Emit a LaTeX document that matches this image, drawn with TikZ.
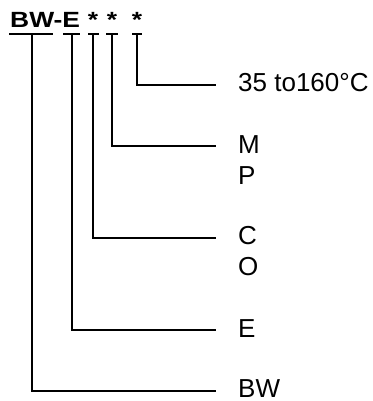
\documentclass[tikz,border=0pt]{standalone}
\usepackage{fontspec}
\setmainfont{Liberation Sans}
\usepackage{graphicx}
\usetikzlibrary{positioning}
\usetikzlibrary{calc}

\begin{document}
\begin{tikzpicture}[x=1pt,y=-1pt]
          \useasboundingbox (0,0) rectangle (372,401);
          \begin{scope}[every node/.style={inner sep=0pt,font=\bfseries\fontsize{22}{26}\selectfont}]
            \node[anchor=base west] (code) at (10,28) {\scalebox{1.2}[1]{BW-E}};
            \node[anchor=base] (st1) at (93,28) {\scalebox{1.2}[1]{*}};
            \node[anchor=base] (st2) at (112,28) {\scalebox{1.2}[1]{*}};
            \node[anchor=base] (st3) at (137,28) {\scalebox{1.2}[1]{*}};
          \end{scope}
          % underlines below the code
          \begin{scope}[line width=2pt]
            \draw (9,34) -- (53,34);
            \draw (63,34) -- (80,34);
            \draw (88,34) -- (99,34);
            \draw (106,34) -- (118,34);
            \draw (132,34) -- (142,34);
          \end{scope}
          \coordinate (tbw) at (32,34);
          \coordinate (te) at (72,34);
          \coordinate (ts1) at (93,34);
          \coordinate (ts2) at (112,34);
          \coordinate (ts3) at (137,34);
          \coordinate (ebw) at (216,391);
          \coordinate (ee) at (216,330);
          \coordinate (ec) at (216,238);
          \coordinate (em) at (216,146);
          \coordinate (et) at (216,85);
          \begin{scope}[every node/.style={anchor=base west,inner sep=0pt,align=left,font=\fontsize{26}{31}\selectfont}]
            \node (temp) at (238,92) {35 to160°C};
            \node (mp) at (238,184) {M\\P};
            \node (co) at (238,275) {C\\O};
            \node (ltr) at (238,337) {E};
            \node (bw) at (238,397) {BW};
          \end{scope}
          \begin{scope}[line width=1.4pt]
            \draw (ts3) |- (et);
            \draw (ts2) |- (em);
            \draw (ts1) |- (ec);
            \draw (te) |- (ee);
            \draw (tbw) |- (ebw);
          \end{scope}
        \end{tikzpicture}
\end{document}
